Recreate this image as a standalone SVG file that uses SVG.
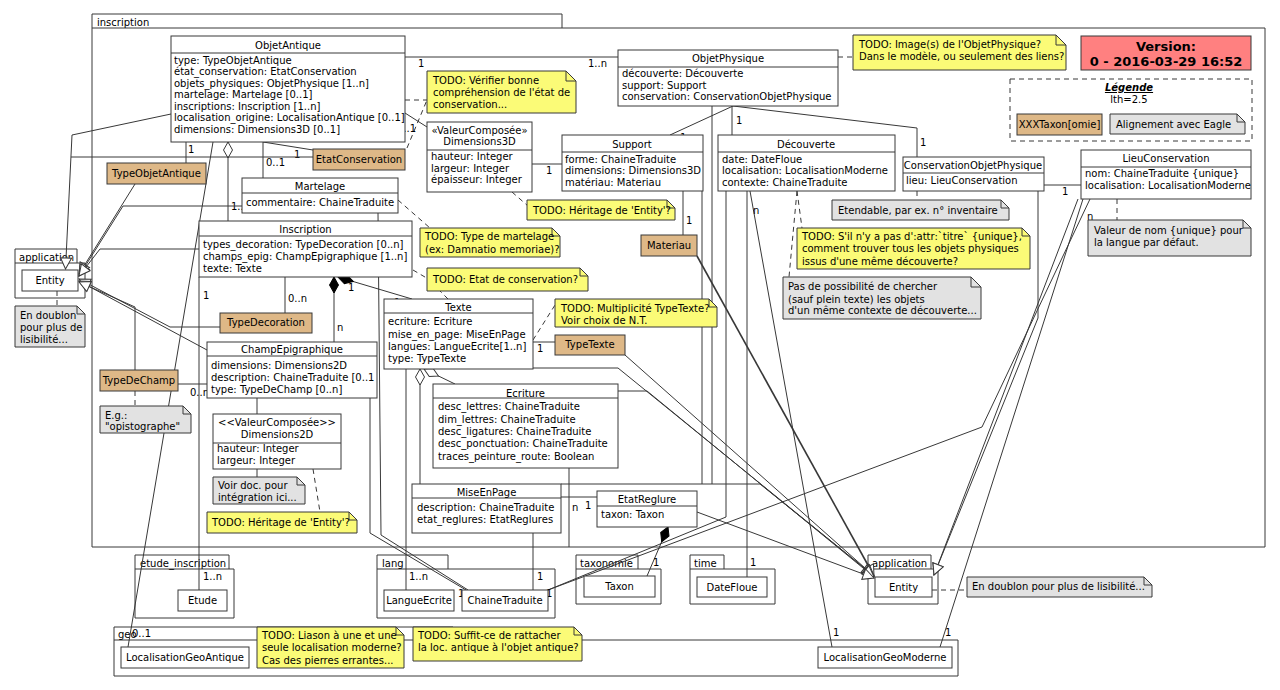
<svg xmlns="http://www.w3.org/2000/svg" width="1280" height="690" viewBox="0 0 1280 690">
<style>
text{font-family:"DejaVu Sans",Verdana,sans-serif;font-size:10px;fill:#000}
.m{text-anchor:middle}
.b{fill:#fff;stroke:#383838;stroke-width:1}
.t{fill:#DEB887;stroke:#383838;stroke-width:1}
.ny{fill:#FBFB77;stroke:#383838;stroke-width:1}
.ng{fill:#E2E2E2;stroke:#383838;stroke-width:1}
.f{fill:none;stroke:#383838;stroke-width:1}
.p{fill:none;stroke:#383838;stroke-width:1}
.c{fill:none;stroke:#383838;stroke-width:1}
.d{fill:none;stroke:#383838;stroke-width:1;stroke-dasharray:5,4}
.ih{marker-end:url(#tri)}
.ag{marker-start:url(#dh)}
.co{marker-start:url(#df)}
</style>
<defs>
<marker id="tri" markerUnits="userSpaceOnUse" viewBox="-12 -7 13 14" markerWidth="13" markerHeight="14" refX="0" refY="0" orient="auto"><path d="M-11,-5.5 L0,0 L-11,5.5 Z" fill="#fff" stroke="#383838"/></marker>
<marker id="dh" markerUnits="userSpaceOnUse" viewBox="-1 -6 18 12" markerWidth="18" markerHeight="12" refX="0" refY="0" orient="auto"><path d="M0,0 L8,-4.5 L16,0 L8,4.5 Z" fill="#fff" stroke="#383838"/></marker>
<marker id="df" markerUnits="userSpaceOnUse" viewBox="-1 -6 18 12" markerWidth="18" markerHeight="12" refX="0" refY="0" orient="auto"><path d="M0,0 L8,-4.5 L16,0 L8,4.5 Z" fill="#000" stroke="#000"/></marker>
</defs>
<rect width="1280" height="690" fill="#fff"/>

<g id="pkg-inscription">
<path class="p" d="M92,28 V14 H562 V28 M92,28 H1265 V547 H92 Z"/>
<text x="97" y="26">inscription</text>
</g>
<g id="pkg-etude">
<path class="p" d="M135,569 V555 H229 V569 M135,569 H234 V618 H135 Z"/>
<text x="140" y="567">etude_inscription</text>
</g>
<g id="pkg-lang">
<path class="p" d="M377,569 V555 H448 V569 M377,569 H555 V618 H377 Z"/>
<text x="382" y="567">lang</text>
</g>
<g id="pkg-taxonomie">
<path class="p" d="M576,569 V555 H638 V569 M576,569 H661 V604 H576 Z"/>
<text x="580" y="567">taxonomie</text>
</g>
<g id="pkg-time">
<path class="p" d="M690,569 V555 H724 V569 M690,569 H775 V604 H690 Z"/>
<text x="694" y="567">time</text>
</g>
<g id="pkg-application2">
<path class="p" d="M868,569 V555 H931 V569 M868,569 H938 V604 H868 Z"/>
<text x="872" y="567">application</text>
</g>
<g id="pkg-geo">
<path class="p" d="M114,640 V627 H453 V640 M114,640 H958 V676 H114 Z"/>
<text x="118" y="638">geo</text>
</g>
<g id="pkg-application1">
<path class="p" d="M15,263 V249 H77 V263 M15,263 H85 V298 H15 Z"/>
<text x="19" y="261">application</text>
</g>

<g id="connectors">
<path class="c" d="M405,57 H618"/>
<text x="418" y="67">1</text><text x="588" y="67">1..n</text>
<path class="d" d="M838,57 H853"/>
<path class="d" d="M405,100 H427"/>
<path class="d" d="M407,148 L427,100"/>
<path class="c" d="M405,113 L427,127"/>
<text x="397" y="132">0..1</text>
<path class="c" d="M532,164 H562"/>
<text x="546" y="174">1</text>
<path class="d" d="M512,192 L528,206"/>
<path class="c" d="M733,106 L670,135"/>
<text x="680" y="141">1</text>
<path class="c" d="M732,106 V135"/>
<text x="736" y="124">1</text>
<path class="c" d="M733,106 L917,128 V157"/>
<text x="920" y="146">1</text>
<path class="d" d="M917,191 V200"/>
<path class="c" d="M1044,185 H1081"/>
<text x="1062" y="195">1</text>
<path class="d" d="M1117,199 V220"/>
<path class="c" d="M683,191 V235"/>
<text x="686" y="224">1</text>
<path class="c" d="M712,106 V484"/>
<path class="c" d="M702,191 V484"/>
<path class="c ih" d="M561,484 H760 L873,575"/>
<path class="d" d="M797,191 L802,228"/>
<path class="d" d="M797,191 L789,277"/>
<path class="c" d="M186,142 V163"/>
<text x="188" y="153">1</text>
<path class="c" d="M263,142 L313,150"/>
<text x="294" y="158">1</text>
<path class="c" d="M263,142 V178"/>
<text x="266" y="166">0..1</text>
<path class="c ag" d="M228,142 V221"/>
<text x="231" y="210">1..n</text>
<path class="c ih" d="M171,114 L72,135 L65.5,269"/>
<path class="c" d="M313,157 H71"/>
<path class="c ih" d="M135,184 L79,274"/>
<path class="c ih" d="M242,206 H123 L79,276"/>
<path class="c ih" d="M200,249 H100 L79,276"/>
<path class="c ih" d="M220,327 H170 L79,279"/>
<path class="c ih" d="M207,350 L79,281"/>
<path class="c ih" d="M135,370 V307 L79,282"/>
<path class="d" d="M135,391 V406"/>
<path class="d" d="M57,291 V306"/>
<path class="d" d="M398,200 L430,228"/>
<path class="d" d="M413,270 L430,280"/>
<path class="d" d="M448,299 L440,291"/>
<path class="c" d="M285,277 V313"/>
<text x="288" y="302">0..n</text>
<path class="c co" d="M334,277 V342"/>
<text x="337" y="331">n</text>
<path class="c co" d="M338,277 L412,299"/>
<text x="348" y="291">1</text><text x="394" y="306">1</text>
<path class="c" d="M199,277 V590"/>
<text x="203" y="299">1</text><text x="203" y="580">1..n</text>
<path class="c" d="M213,142 L128,647"/>
<text x="132" y="637">0..1</text>
<path class="c" d="M178,384 H207"/>
<text x="190" y="396">0..n</text>
<path class="c" d="M257,398 V414"/>
<path class="c" d="M257,469 V477"/>
<path class="d" d="M313,469 L320,512"/>
<path class="d" d="M533,340 L555,305"/>
<path class="c" d="M533,342 H555"/>
<text x="537" y="352">1</text>
<path class="c" d="M406,369 V590"/>
<text x="409" y="580">1..n</text>
<path class="c ag" d="M420,369 V484"/>
<path class="c ag" d="M424,369 L455,384"/>
<path class="c" d="M378,213 L381,535 L468,590"/>
<path class="c" d="M370,398 V533 L466,590"/>
<text x="458" y="597">1</text>
<path class="c" d="M533,533 V590"/>
<text x="537" y="580">1</text>
<path class="c" d="M569,468 V547"/>
<path class="c" d="M561,497 H597"/>
<text x="572" y="511">n</text><text x="585" y="509">1</text>
<path class="c co" d="M668,527 L647,576"/>
<text x="653" y="566">1</text>
<path class="c" d="M747,191 V577"/>
<text x="750" y="566">1</text>
<path class="c" d="M750,191 L832,647"/>
<text x="753" y="214">n</text><text x="833" y="636">1</text>
<path class="c" d="M726,191 V517 L548,590"/>
<path class="c" d="M1090,199 L982,427 L548,590"/>
<text x="1087" y="220">n</text>
<text x="546" y="597">1</text>
<path class="c" d="M1083,199 L940,647"/>
<text x="945" y="636">1</text>
<path class="c ih" d="M1078,199 L934,575"/>
<path class="c ih" d="M1038,191 V318 L934,575"/>
<path class="c ih" d="M697,256 L874,576" style="stroke-width:1.6"/>
<path class="c ih" d="M533,368 H618 L874,576"/>
<path class="c ih" d="M625,355 L874,576"/>
<path class="c ih" d="M618,391 H647 L874,577"/>
<path class="c ih" d="M697,512 L874,578"/>
<path class="d" d="M932,590 H967"/>
</g>

<g id="ObjetAntique">
<rect class="b" x="171" y="36" width="234" height="106"/>
<path class="f" d="M171,53 H405"/>
<text class="m" x="288" y="48.5">ObjetAntique</text>
<text x="174" y="63.5">type: TypeObjetAntique</text>
<text x="174" y="75">état_conservation: EtatConservation</text>
<text x="174" y="86.5">objets_physiques: ObjetPhysique [1..n]</text>
<text x="174" y="98">martelage: Martelage [0..1]</text>
<text x="174" y="109.5">inscriptions: Inscription [1..n]</text>
<text x="174" y="121">localisation_origine: LocalisationAntique [0..1]</text>
<text x="174" y="132.5">dimensions: Dimensions3D [0..1]</text>
</g>
<g id="ObjetPhysique">
<rect class="b" x="618" y="50" width="220" height="56"/>
<path class="f" d="M618,67 H838"/>
<text class="m" x="728" y="62">ObjetPhysique</text>
<text x="622" y="77">découverte: Découverte</text>
<text x="622" y="88.5">support: Support</text>
<text x="622" y="100">conservation: ConservationObjetPhysique</text>
</g>
<g id="Support">
<rect class="b" x="562" y="135" width="141" height="56"/>
<path class="f" d="M562,152 H703"/>
<text class="m" x="632" y="148">Support</text>
<text x="565" y="162.5">forme: ChaineTraduite</text>
<text x="565" y="174">dimensions: Dimensions3D</text>
<text x="565" y="185.5">matériau: Materiau</text>
</g>
<g id="Decouverte">
<rect class="b" x="718" y="135" width="177" height="56"/>
<path class="f" d="M718,152 H895"/>
<text class="m" x="806" y="148">Découverte</text>
<text x="722" y="162.5">date: DateFloue</text>
<text x="722" y="174">localisation: LocalisationModerne</text>
<text x="722" y="185.5">contexte: ChaineTraduite</text>
</g>
<g id="ConservationObjetPhysique">
<rect class="b" x="903" y="157" width="141" height="34"/>
<path class="f" d="M903,173 H1044"/>
<text class="m" x="973" y="169">ConservationObjetPhysique</text>
<text x="906" y="184">lieu: LieuConservation</text>
</g>
<g id="LieuConservation">
<rect class="b" x="1081" y="150" width="170" height="49"/>
<path class="f" d="M1081,167 H1251"/>
<text class="m" x="1166" y="162">LieuConservation</text>
<text x="1085" y="177">nom: ChaineTraduite {unique}</text>
<text x="1085" y="188.5">localisation: LocalisationModerne</text>
</g>
<g id="Dimensions3D">
<rect class="b" x="427" y="122" width="105" height="70"/>
<path class="f" d="M427,150 H532"/>
<text class="m" x="479.5" y="133.5">«ValeurComposée»</text>
<text class="m" x="479.5" y="145">Dimensions3D</text>
<text x="431" y="160">hauteur: Integer</text>
<text x="431" y="171.5">largeur: Integer</text>
<text x="431" y="183">épaisseur: Integer</text>
</g>
<g id="EtatConservation">
<rect class="t" x="313" y="149" width="92" height="21"/>
<text class="m" x="359" y="162.5">EtatConservation</text>
</g>
<g id="TypeObjetAntique">
<rect class="t" x="107" y="163" width="99" height="21"/>
<text class="m" x="156.5" y="176.5">TypeObjetAntique</text>
</g>
<g id="Martelage">
<rect class="b" x="242" y="178" width="156" height="35"/>
<path class="f" d="M242,193 H398"/>
<text class="m" x="320" y="189.5">Martelage</text>
<text x="246" y="205.5">commentaire: ChaineTraduite</text>
</g>
<g id="Inscription">
<rect class="b" x="199" y="221" width="213" height="56"/>
<path class="f" d="M199,236 H412"/>
<text class="m" x="305.5" y="233">Inscription</text>
<text x="203" y="247.5">types_decoration: TypeDecoration [0..n]</text>
<text x="203" y="259.5">champs_epig: ChampEpigraphique [1..n]</text>
<text x="203" y="271.5">texte: Texte</text>
</g>
<g id="TypeDecoration">
<rect class="t" x="220" y="313" width="92" height="20"/>
<text class="m" x="266" y="326">TypeDecoration</text>
</g>
<g id="ChampEpigraphique">
<rect class="b" x="207" y="342" width="170" height="56"/>
<path class="f" d="M207,356 H377"/>
<text class="m" x="292" y="353">ChampEpigraphique</text>
<text x="211" y="369">dimensions: Dimensions2D</text>
<text x="211" y="380.5">description: ChaineTraduite [0..1</text>
<text x="211" y="392.5">type: TypeDeChamp [0..n]</text>
</g>
<g id="TypeDeChamp">
<rect class="t" x="100" y="370" width="78" height="21"/>
<text class="m" x="139" y="384">TypeDeChamp</text>
</g>
<g id="Dimensions2D">
<rect class="b" x="213" y="414" width="128" height="55"/>
<path class="f" d="M213,443 H341"/>
<text class="m" x="277" y="426">&lt;&lt;ValeurComposée&gt;&gt;</text>
<text class="m" x="277" y="437.5">Dimensions2D</text>
<text x="217" y="452">hauteur: Integer</text>
<text x="217" y="463.5">largeur: Integer</text>
</g>
<g id="Texte">
<rect class="b" x="384" y="299" width="149" height="70"/>
<path class="f" d="M384,313 H533"/>
<text class="m" x="458.5" y="311">Texte</text>
<text x="388" y="325">ecriture: Ecriture</text>
<text x="388" y="337.5">mise_en_page: MiseEnPage</text>
<text x="388" y="349.5">langues: LangueEcrite[1..n]</text>
<text x="388" y="361.5">type: TypeTexte</text>
</g>
<g id="TypeTexte">
<rect class="t" x="555" y="335" width="70" height="20"/>
<text class="m" x="590" y="348">TypeTexte</text>
</g>
<g id="Ecriture">
<rect class="b" x="433" y="384" width="185" height="84"/>
<path class="f" d="M433,398 H618"/>
<text class="m" x="525.5" y="396.5">Ecriture</text>
<text x="438" y="410">desc_lettres: ChaineTraduite</text>
<text x="438" y="422.5">dim_lettres: ChaineTraduite</text>
<text x="438" y="435">desc_ligatures: ChaineTraduite</text>
<text x="438" y="447">desc_ponctuation: ChaineTraduite</text>
<text x="438" y="459.5">traces_peinture_route: Boolean</text>
</g>
<g id="MiseEnPage">
<rect class="b" x="412" y="484" width="149" height="49"/>
<path class="f" d="M412,498 H561"/>
<text class="m" x="486.5" y="495.5">MiseEnPage</text>
<text x="417" y="510.5">description: ChaineTraduite</text>
<text x="417" y="522.5">etat_reglures: EtatReglures</text>
</g>
<g id="EtatReglure">
<rect class="b" x="597" y="491" width="100" height="36"/>
<path class="f" d="M597,506 H697"/>
<text class="m" x="647" y="503">EtatReglure</text>
<text x="601" y="517.5">taxon: Taxon</text>
</g>
<g id="Materiau">
<rect class="t" x="641" y="235" width="56" height="21"/>
<text class="m" x="669" y="248.5">Materiau</text>
</g>
<g id="Entity1">
<rect class="b" x="22" y="270" width="56" height="21"/>
<text class="m" x="50" y="284">Entity</text>
</g>
<g id="Entity2">
<rect class="b" x="875" y="577" width="57" height="20"/>
<text class="m" x="903.5" y="590.5">Entity</text>
</g>
<g id="Etude">
<rect class="b" x="178" y="590" width="49" height="21"/>
<text class="m" x="202.5" y="604">Etude</text>
</g>
<g id="LangueEcrite">
<rect class="b" x="384" y="590" width="70" height="21"/>
<text class="m" x="419" y="604">LangueEcrite</text>
</g>
<g id="ChaineTraduite">
<rect class="b" x="462" y="590" width="86" height="21"/>
<text class="m" x="505" y="604">ChaineTraduite</text>
</g>
<g id="Taxon">
<rect class="b" x="584" y="576" width="71" height="21"/>
<text class="m" x="619.5" y="589.5">Taxon</text>
</g>
<g id="DateFloue">
<rect class="b" x="697" y="577" width="70" height="20"/>
<text class="m" x="732" y="590.5">DateFloue</text>
</g>
<g id="LocalisationGeoAntique">
<rect class="b" x="121" y="647" width="128" height="21"/>
<text class="m" x="185" y="660.5">LocalisationGeoAntique</text>
</g>
<g id="LocalisationGeoModerne">
<rect class="b" x="818" y="647" width="134" height="21"/>
<text class="m" x="885" y="660.5">LocalisationGeoModerne</text>
</g>

<g id="note-image">
<path class="ny" d="M853,35 H1056 L1066,45 V70 H853 Z"/><path class="f" d="M1056,35 V45 H1066"/>
<text x="859" y="48">TODO: Image(s) de l'ObjetPhysique?</text>
<text x="859" y="60">Dans le modèle, ou seulement des liens?</text>
</g>
<g id="note-verifier">
<path class="ny" d="M427,71 H566 L576,81 V113 H427 Z"/><path class="f" d="M566,71 V81 H576"/>
<text x="433" y="83.5">TODO: Vérifier bonne</text>
<text x="433" y="96">compréhension de l'état de</text>
<text x="433" y="108">conservation...</text>
</g>
<g id="note-heritage3d">
<path class="ny" d="M527,200 H667 L675,208 V220 H527 Z"/><path class="f" d="M667,200 V208 H675"/>
<text x="533" y="213.5">TODO: Héritage de 'Entity'?</text>
</g>
<g id="note-martelage">
<path class="ny" d="M420,228 H552 L560,236 V257 H420 Z"/><path class="f" d="M552,228 V236 H560"/>
<text x="425" y="240">TODO: Type de martelage</text>
<text x="425" y="252.5">(ex: Damnatio memoriae)?</text>
</g>
<g id="note-etat">
<path class="ny" d="M427,268 H580 L588,276 V291 H427 Z"/><path class="f" d="M580,268 V276 H588"/>
<text x="433" y="283">TODO: Etat de conservation?</text>
</g>
<g id="note-typetexte">
<path class="ny" d="M555,299 H709 L717,307 V327 H555 Z"/><path class="f" d="M709,299 V307 H717"/>
<text x="561" y="311.5">TODO: Multiplicité TypeTexte?</text>
<text x="561" y="323.5">Voir choix de N.T.</text>
</g>
<g id="note-titre">
<path class="ny" d="M797,228 H1022 L1030,236 V269 H797 Z"/><path class="f" d="M1022,228 V236 H1030"/>
<text x="802" y="239.5">TODO: S'il n'y a pas d':attr:`titre` {unique},</text>
<text x="802" y="252">comment trouver tous les objets physiques</text>
<text x="802" y="264.5">issus d'une même découverte?</text>
</g>
<g id="note-contexte">
<path class="ng" d="M783,277 H971 L981,287 V319 H783 Z"/><path class="f" d="M971,277 V287 H981"/>
<text x="788" y="290">Pas de possibilité de chercher</text>
<text x="788" y="302.5">(sauf plein texte) les objets</text>
<text x="788" y="314">d'un même contexte de découverte...</text>
</g>
<g id="note-etendable">
<path class="ng" d="M832,200 H1001 L1009,208 V220 H832 Z"/><path class="f" d="M1001,200 V208 H1009"/>
<text x="838" y="213.5">Etendable, par ex. n° inventaire</text>
</g>
<g id="note-valeur">
<path class="ng" d="M1088,220 H1243 L1251,228 V256 H1088 Z"/><path class="f" d="M1243,220 V228 H1251"/>
<text x="1094" y="233.5">Valeur de nom {unique} pour</text>
<text x="1094" y="246">la langue par défaut.</text>
</g>
<g id="note-doublon1">
<path class="ng" d="M15,306 H77 L85,314 V347 H15 Z"/><path class="f" d="M77,306 V314 H85"/>
<text x="20" y="318.5">En doublon</text>
<text x="20" y="331">pour plus de</text>
<text x="20" y="343">lisibilité...</text>
</g>
<g id="note-eg">
<path class="ng" d="M100,406 H183 L191,414 V433 H100 Z"/><path class="f" d="M183,406 V414 H191"/>
<text x="105" y="418.5">E.g.:</text>
<text x="105" y="430">"opistographe"</text>
</g>
<g id="note-voirdoc">
<path class="ng" d="M213,477 H297 L305,485 V504 H213 Z"/><path class="f" d="M297,477 V485 H305"/>
<text x="218" y="488.5">Voir doc. pour</text>
<text x="218" y="501">intégration ici...</text>
</g>
<g id="note-heritage2d">
<path class="ny" d="M207,512 H349 L357,520 V533 H207 Z"/><path class="f" d="M349,512 V520 H357"/>
<text x="212" y="525.5">TODO: Héritage de 'Entity'?</text>
</g>
<g id="note-doublon2">
<path class="ng" d="M967,577 H1144 L1152,585 V597 H967 Z"/><path class="f" d="M1144,577 V585 H1152"/>
<text x="972" y="590">En doublon pour plus de lisibilité...</text>
</g>
<g id="note-liason">
<path class="ny" d="M257,627 H396 L404,635 V668 H257 Z"/><path class="f" d="M396,627 V635 H404"/>
<text x="262" y="638.5">TODO: Liason à une et une</text>
<text x="262" y="651">seule localisation moderne?</text>
<text x="262" y="663.5">Cas des pierres errantes...</text>
</g>
<g id="note-suffit">
<path class="ny" d="M413,627 H574 L582,635 V661 H413 Z"/><path class="f" d="M574,627 V635 H582"/>
<text x="418" y="638.5">TODO: Suffit-ce de rattacher</text>
<text x="418" y="651">la loc. antique à l'objet antique?</text>
</g>
<g id="version">
<rect x="1081" y="36" width="170" height="34" fill="#FF8080" stroke="#383838"/>
<text class="m" x="1166" y="51" style="font-size:13px;font-weight:bold">Version:</text>
<text class="m" x="1166" y="65.5" style="font-size:13px;font-weight:bold">0 - 2016-03-29 16:52</text>
</g>
<g id="legende">
<rect x="1010" y="79" width="242" height="62" fill="none" stroke="#383838" stroke-dasharray="5,4"/>
<text class="m" x="1129" y="91" style="font-weight:bold;font-style:italic;text-decoration:underline">Légende</text>
<text class="m" x="1129" y="102.5">lth=2.5</text>
<rect class="t" x="1017" y="114" width="85" height="21"/>
<text class="m" x="1059.5" y="128">XXXTaxon[omie]</text>
<path class="ng" d="M1110,114 H1237 L1245,122 V134 H1110 Z"/><path class="f" d="M1237,114 V122 H1245"/>
<text x="1116" y="128">Alignement avec Eagle</text>
</g>
</svg>
